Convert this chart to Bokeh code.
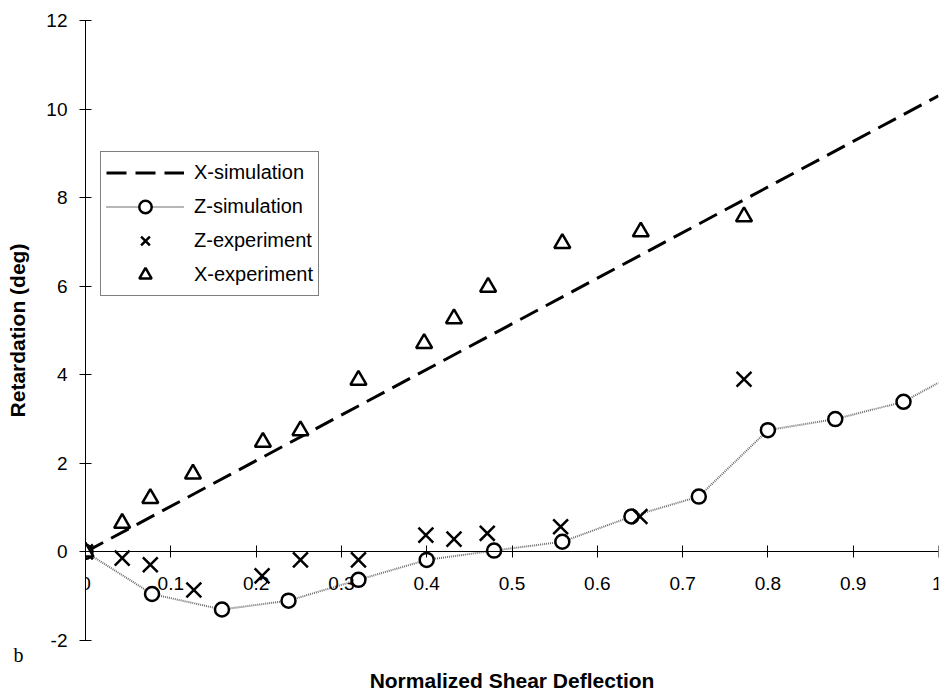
from bokeh.plotting import figure
from bokeh.models import Range1d, FixedTicker, Legend, LegendItem, Title
from bokeh.embed import file_html
from bokeh.resources import INLINE

# ---- data ----
xsim_x = [0.0, 1.0]
xsim_y = [0.0, 10.3]

zsim_x = [0.0, 0.078, 0.16, 0.238, 0.32, 0.40, 0.479, 0.559, 0.64, 0.719, 0.80, 0.879, 0.959]
zsim_y = [0.0, -0.95, -1.3, -1.1, -0.63, -0.18, 0.03, 0.23, 0.80, 1.25, 2.75, 3.0, 3.39]
zsim_line_x = zsim_x + [1.0]
zsim_line_y = zsim_y + [3.82]

zexp_x = [0.0, 0.043, 0.076, 0.127, 0.207, 0.252, 0.32, 0.399, 0.432, 0.471, 0.557, 0.65, 0.772]
zexp_y = [0.0, -0.14, -0.29, -0.86, -0.54, -0.18, -0.18, 0.38, 0.29, 0.42, 0.57, 0.80, 3.9]

xexp_x = [0.0, 0.043, 0.076, 0.126, 0.208, 0.252, 0.32, 0.397, 0.432, 0.472, 0.559, 0.651, 0.772]
xexp_y = [0.0, 0.65, 1.21, 1.76, 2.48, 2.74, 3.88, 4.71, 5.27, 5.98, 6.97, 7.23, 7.57]

x_ticks = [0, 0.1, 0.2, 0.3, 0.4, 0.5, 0.6, 0.7, 0.8, 0.9, 1]
x_tick_labels = ["0", "0.1", "0.2", "0.3", "0.4", "0.5", "0.6", "0.7", "0.8", "0.9", "1"]
y_ticks = [-2, 0, 2, 4, 6, 8, 10, 12]
y_tick_labels = ["-2", "0", "2", "4", "6", "8", "10", "12"]

x_title = "Normalized Shear Deflection"
y_title = "Retardation (deg)"
panel_tag = "b"

FONT = "Liberation Sans"

p = figure(width=942, height=691, output_backend="svg", toolbar_location=None,
           x_range=Range1d(0, 1), y_range=Range1d(-2, 12),
           min_border_left=85, min_border_right=4, min_border_top=20, min_border_bottom=51)
p.outline_line_color = None
p.grid.visible = False
p.background_fill_color = "white"
p.border_fill_color = "white"

# axes
for ax in (p.xaxis[0], p.yaxis[0]):
    ax.axis_line_color = "black"
    ax.axis_line_width = 1
    ax.major_tick_line_color = "black"
    ax.major_tick_in = 6
    ax.major_tick_out = 6
    ax.minor_tick_line_color = None
    ax.major_label_text_font = FONT
    ax.major_label_text_font_size = "19px"
    ax.major_label_text_color = "black"

p.xaxis.fixed_location = 0
p.xaxis.ticker = FixedTicker(ticks=x_ticks)
p.xaxis.major_label_overrides = dict(zip(x_ticks, x_tick_labels))
p.xaxis.major_label_standoff = 19

p.yaxis.ticker = FixedTicker(ticks=y_ticks)
p.yaxis.major_label_overrides = dict(zip(y_ticks, y_tick_labels))
p.yaxis.major_label_standoff = 12
p.yaxis.axis_label = y_title
p.yaxis.axis_label_text_font = FONT
p.yaxis.axis_label_text_font_style = "bold"
p.yaxis.axis_label_text_font_size = "21px"
p.yaxis.axis_label_text_color = "black"
p.yaxis.axis_label_standoff = 14

# glyphs
r_xsim = p.line(xsim_x, xsim_y, line_color="black", line_width=3, line_dash="20 9")
r_zsim_line = p.line(zsim_line_x, zsim_line_y, line_color="#6e6e6e", line_width=2, line_dash="1 1")
r_zsim = p.scatter(zsim_x, zsim_y, marker="circle", size=14, line_color="black",
                   line_width=2.5, fill_color="white")
r_zexp = p.scatter(zexp_x, zexp_y, marker="x", size=21, line_color="black", line_width=2.5)
r_xexp = p.scatter(xexp_x, xexp_y, marker="triangle", size=16, line_color="black",
                   line_width=2.5, fill_color="white")

legend = Legend(items=[
    LegendItem(label="X-simulation", renderers=[r_xsim]),
    LegendItem(label="Z-simulation", renderers=[r_zsim_line, r_zsim]),
    LegendItem(label="Z-experiment", renderers=[r_zexp]),
    LegendItem(label="X-experiment", renderers=[r_xexp]),
], location=(15, 344))
legend.label_text_font = FONT
legend.label_text_font_size = "20px"
legend.label_text_color = "black"
legend.glyph_width = 78
legend.glyph_height = 31
legend.label_height = 31
legend.label_standoff = 10
legend.spacing = 3
legend.padding = 5
legend.margin = 0
legend.border_line_color = "black"
legend.border_line_width = 1
legend.background_fill_color = "white"
legend.background_fill_alpha = 1
p.add_layout(legend, "center")

# panel tag, then the x title below it
p.add_layout(Title(text=panel_tag, text_font="Liberation Serif", text_font_style="normal",
                   text_font_size="20px", align="left", offset=-72, text_color="black",
                   standoff=2), "below")
p.add_layout(Title(text=x_title, text_font=FONT, text_font_style="bold",
                   text_font_size="21px", align="center", text_color="black",
                   standoff=0), "below")

open("out.html", "w").write(file_html(p, INLINE))
